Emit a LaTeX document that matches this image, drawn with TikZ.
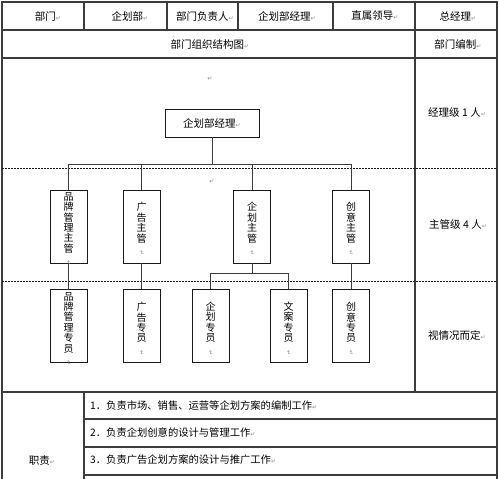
\documentclass[tikz,border=0pt]{standalone}
\usepackage{fontspec}
\usepackage{graphicx}
\usepackage{tikz}
\usetikzlibrary{positioning,calc}
\newfontfamily\cjk{Noto Sans CJK SC}
\newfontfamily\symf{DejaVu Sans}
\definecolor{Grid}{HTML}{3C3C3C}
\definecolor{Ink}{HTML}{1A1A1A}
\definecolor{Mark}{HTML}{8A8A8A}
\newcommand\mk{{\symf\fontsize{6}{6}\selectfont\textcolor{Mark}{↵}}}
\newcommand\vmk{\smash{\rotatebox{-90}{\mk}}}
\newcommand\vtight{\lineskiplimit=-20pt\relax\lineskip=0pt\relax}

\begin{document}
\begin{tikzpicture}[x=1pt,y=-1pt,
    g/.style={draw=Grid,line width=1.1pt},
    t/.style={inner sep=0pt,font=\cjk\fontsize{10.5}{12}\selectfont},
    duty/.style={t,anchor=west,font=\cjk\fontsize{10.3}{12}\selectfont},
    hbox/.style={t,draw=Ink,line width=0.8pt,minimum width=94pt,minimum height=28pt},
    vbox/.style={draw=Ink,line width=0.8pt,minimum width=37pt,minimum height=73pt,inner sep=0pt,align=center,
      font=\cjk\fontsize{10}{10.4}\selectfont\vtight},
    c/.style={draw=Grid,line width=0.9pt},
    d/.style={draw=Ink,line width=0.5pt,dash pattern=on 2pt off 1pt}]
  \useasboundingbox (0,0) rectangle (499,479);
  % table frame
  \draw[g] (2,479) -- (2,2) -- (497,2) -- (497,479);
  \draw[g] (2,30) -- (497,30); \draw[g] (2,58) -- (497,58); \draw[g] (2,392) -- (497,392);
  \foreach \y in {419,447,475} \draw[g] (84,\y) -- (497,\y);
  \foreach \x in {84,167,238,333} \draw[g] (\x,2) -- (\x,30);
  \draw[g] (415,2) -- (415,392);
  \draw[g] (84,392) -- (84,479);
  % level separators
  \draw[d] (2,168) -- (497,168); \draw[d] (2,281) -- (497,281);
  % header cells
  \node[t] (h1) at (48,16) {部门\mk};
  \node[t] (h2) at (130,16) {企划部\mk};
  \node[t] (h3) at (205,16) {部门负责人\mk};
  \node[t] (h4) at (287,16) {企划部经理\mk};
  \node[t] (h5) at (375,16) {直属领导\mk};
  \node[t] (h6) at (458,16) {总经理\mk};
  \node[t] (chart) at (210,44) {部门组织结构图\mk};
  \node[t] (quota) at (458,44) {部门编制\mk};
  \node (p1) at (210,79) {\mk};
  \node (p2) at (212,182) {\mk};
  % levels
  \node[t] (l1) at (457,113) {经理级 1 人\mk};
  \node[t] (l2) at (458,224) {主管级 4 人\mk};
  \node[t] (l3) at (457,335) {视情况而定\mk};
  % org chart
  \node[hbox] (mgr) at (212,123) {企划部经理\mk};
  \node[vbox] (s1) at (68.5,226.5) {品\\牌\\管\\理\\主\\管\\[-2pt]\vmk};
  \node[vbox] (s2) at (141.5,226.5) {广\\告\\主\\管\\[-2pt]\vmk};
  \node[vbox] (s3) at (252,226.5) {企\\划\\主\\管\\[-2pt]\vmk};
  \node[vbox] (s4) at (351,226.5) {创\\意\\主\\管\\[-2pt]\vmk};
  \node[vbox,below=26pt of s1] (t1) {品\\牌\\管\\理\\专\\员\\[-2pt]\vmk};
  \node[vbox,below=26pt of s2] (t2) {广\\告\\专\\员\\[-2pt]\vmk};
  \node[vbox] (t3) at (210.5,326) {企\\划\\专\\员\\[-2pt]\vmk};
  \node[vbox] (t4) at (288.5,326) {文\\案\\专\\员\\[-2pt]\vmk};
  \node[vbox,below=26pt of s4] (t5) {创\\意\\专\\员\\[-2pt]\vmk};
  \coordinate (bar) at (0,164);
  \draw[c] (mgr.south) -- (mgr.south |- bar);
  \draw[c] (s1.north |- bar) -- (s4.north |- bar);
  \foreach \n in {s1,s2,s3,s4} \draw[c] (\n.north) -- (\n.north |- bar);
  \foreach \a/\b in {s1/t1,s2/t2,s4/t5} \draw[c] (\a) -- (\b);
  \draw[c] (s3.south) -- ++(0,10) coordinate (j3);
  \draw[c] (t3.north) |- (j3) -| (t4.north);
  % duties
  \node[t] (duty) at (42,461) {职责\mk};
  \node[duty] (d1) at (90,406) {1．负责市场、销售、运营等企划方案的编制工作\mk};
  \node[duty] (d2) at (90,433) {2．负责企划创意的设计与管理工作\mk};
  \node[duty] (d3) at (90,460) {3．负责广告企划方案的设计与推广工作\mk};
\end{tikzpicture}
\end{document}
